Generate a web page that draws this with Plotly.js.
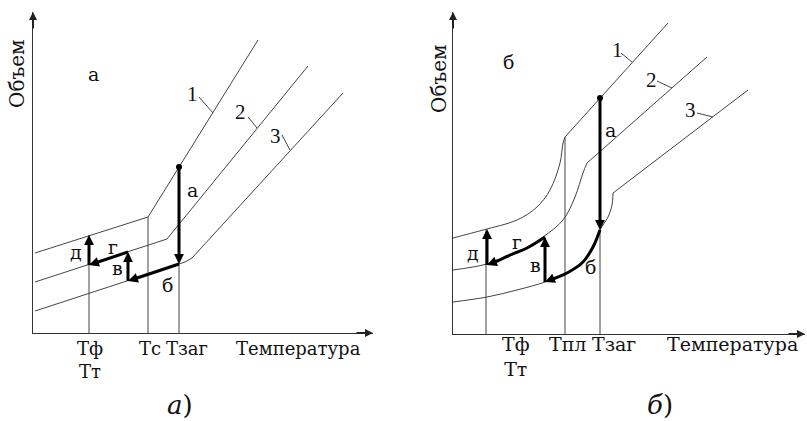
<!DOCTYPE html>
<html><head><meta charset="utf-8">
<script src="https://cdn.plot.ly/plotly-3.0.1.min.js"></script>
<style>html,body{margin:0;padding:0;background:#fff}#chart{width:807px;height:421px}</style>
</head><body><div id="chart"></div>
<script>
// ===== Panel а) — amorphous polymer (Temperature, Volume; arbitrary units) =====
const aRangeT = 340, aRangeV = 321;
const aCurve1T = [2, 115, 225];
const aCurve1V = [80, 116, 293];
const aCurve2T = [2, 134, 275];
const aCurve2V = [51, 94, 267];
const aCurve3T = [2, 152, 159, 310];
const aCurve3V = [22, 71, 75, 240];
const aVertT = [56, 115, 146];          // Тф(Тт), Тс, Тзаг
const aVertTop = [98, 116, 166];
const aPathT = [146, 146, 95, 95, 56, 56]; // steps а, б, в, г, д
const aPathV = [166, 69, 52, 81, 68, 98];
const aLeadT = [[166, 180], [215, 224], [249, 257]];
const aLeadV = [[236, 220], [216, 205], [198, 183]];
const aNumText = ['1', '2', '3'];
const aNumT = [159, 207, 242];
const aNumV = [239, 221, 197];
const aLabelText = ['а', 'а', 'б', 'в', 'г', 'д'];
const aLabelT = [60, 159, 135, 84, 80, 43];
const aLabelV = [259, 143, 48, 65, 86, 81];
const aTickText = ['Тф<br>Тт', 'Тс', 'Тзаг', 'Температура'];
const aTickT = [57, 117, 154, 265];
const aTickV = [-27, -15, -15, -15];

// ===== Panel б) — crystallising polymer =====
const bRangeT = 352, bRangeV = 322;
const bCurve1T = [0, 30, 64, 84, 97, 107, 110, 112, 215];
const bCurve1V = [96, 104, 114, 127, 144, 171, 191, 197, 311];
const bCurve2T = [0, 34, 64, 90, 110, 122, 130, 134, 254];
const bCurve2V = [64, 70, 81, 97, 114, 137, 161, 171, 277];
const bCurve3T = [0, 34, 64, 92, 114, 130, 140, 147, 155, 159, 160, 295];
const bCurve3V = [32, 37, 44, 52, 61, 72, 87, 104, 117, 129, 141, 244];
const bVertT = [33, 112, 147];          // Тф(Тт), Тпл, Тзаг
const bVertTop = [105, 197, 236];
const bStepA_T = [147, 147], bStepA_V = [236, 104];
const bStepB_T = [147, 140, 130, 114, 92], bStepB_V = [104, 87, 72, 61, 52];
const bStepV_T = [92, 92], bStepV_V = [52, 97];
const bStepG_T = [92, 74, 57, 44, 34], bStepG_V = [97, 86, 79, 73, 69];
const bStepD_T = [34, 34], bStepD_V = [69, 105];
const bLeadT = [[168, 179], [204, 219], [244, 260]];
const bLeadV = [[281, 272], [253, 246], [221, 217]];
const bNumText = ['1', '2', '3'];
const bNumT = [164, 198, 237];
const bNumV = [284, 254, 224];
const bLabelText = ['б', 'а', 'б', 'в', 'г', 'д'];
const bLabelT = [55, 157, 137, 82, 64, 20];
const bLabelV = [272, 204, 67, 69, 92, 81];
const bTickText = ['Тф<br>Тт', 'Тпл', 'Тзаг', 'Температура'];
const bTickT = [63, 114, 161, 279];
const bTickV = [-22, -10, -10, -10];

// ===== geometry of the two panels (paper domains) =====
const DOM = {
  x:  [33 / 807, 373 / 807], y:  [88 / 421, 409 / 421],
  x2: [453 / 807, 805 / 807], y2: [87 / 421, 409 / 421]
};
const RNG = {x: aRangeT, y: aRangeV, x2: bRangeT, y2: bRangeV};
const px = (a, v) => DOM[a][0] + v / RNG[a] * (DOM[a][1] - DOM[a][0]);

// ===== builders =====
const THIN = '#444', INK = '#000';
const FONT_NUM = 'Liberation Serif';
const FONT_CYR = 'DejaVu Serif';
const traces = [];
const ann = [];
function thin(xa, ya, T, V, shape) {
  traces.push({type: 'scatter', mode: 'lines', x: T, y: V, xaxis: xa, yaxis: ya,
    line: {color: THIN, width: 1, shape: shape || 'linear'}, hoverinfo: 'skip', cliponaxis: false});
}
function head(xa, ya, t0, v0, t1, v1) {
  const dt = t1 - t0, dv = v1 - v0, L = Math.hypot(dt, dv) || 1, k = 9 / L;
  ann.push({xref: xa, yref: ya, axref: xa, ayref: ya, x: t1, y: v1, ax: t1 - dt * k, ay: v1 - dv * k,
    text: '', showarrow: true, arrowhead: 2, arrowsize: 0.9, arrowwidth: 2.2, arrowcolor: INK, standoff: 0});
}
function shorten(T, V) {
  const n = T.length, dt = T[n - 1] - T[n - 2], dv = V[n - 1] - V[n - 2], L = Math.hypot(dt, dv) || 1, k = 4 / L;
  const t = T.slice(), v = V.slice();
  t[n - 1] = T[n - 1] - dt * k; v[n - 1] = V[n - 1] - dv * k;
  return [t, v];
}
function stepArrow(xa, ya, T, V, shape) {
  const [t, v] = shorten(T, V);
  traces.push({type: 'scatter', mode: 'lines', x: t, y: v, xaxis: xa, yaxis: ya,
    line: {color: INK, width: 3, shape: shape || 'linear'}, hoverinfo: 'skip', cliponaxis: false});
  const n = T.length;
  head(xa, ya, T[n - 2], V[n - 2], T[n - 1], V[n - 1]);
}
function curveWithBreak(xa, ya, T, V) {
  const n = T.length;
  thin(xa, ya, T.slice(0, n - 1), V.slice(0, n - 1), 'spline');
  thin(xa, ya, T.slice(n - 2), V.slice(n - 2));
}
function axisArrows(xa, ya) {
  const xe = px(xa, RNG[xa]), y0 = px(ya, 0), x0 = px(xa, 0), ye = px(ya, RNG[ya]);
  ann.push({xref: 'paper', yref: 'paper', x: xe, y: y0, ax: -18, ay: 0, text: '', showarrow: true,
    arrowhead: 2, arrowsize: 0.8, arrowwidth: 2, arrowcolor: '#222', standoff: 0});
  ann.push({xref: 'paper', yref: 'paper', x: x0, y: ye, ax: 0, ay: 18, text: '', showarrow: true,
    arrowhead: 2, arrowsize: 0.8, arrowwidth: 2, arrowcolor: '#222', standoff: 0});
}
function txt(xa, ya, s, t, v, size, fam, extra) {
  ann.push(Object.assign({xref: 'paper', yref: 'paper', x: px(xa, t), y: px(ya, v), text: s, showarrow: false,
    xanchor: 'center', yanchor: 'middle', font: {family: fam, size: size, color: '#111'}}, extra || {}));
}

// Panel а
thin('x', 'y', aCurve1T, aCurve1V);
thin('x', 'y', aCurve2T, aCurve2V);
thin('x', 'y', aCurve3T, aCurve3V);
aVertT.forEach((t, i) => thin('x', 'y', [t, t], [0, aVertTop[i]]));
aLeadT.forEach((t, i) => thin('x', 'y', t, aLeadV[i]));
for (let i = 1; i < aPathT.length; i++) {
  stepArrow('x', 'y', [aPathT[i - 1], aPathT[i]], [aPathV[i - 1], aPathV[i]]);
}
traces.push({type: 'scatter', mode: 'markers', x: [aPathT[0]], y: [aPathV[0]], xaxis: 'x', yaxis: 'y',
  marker: {size: 6, color: INK}, hoverinfo: 'skip'});
axisArrows('x', 'y');

// Panel б
curveWithBreak('x2', 'y2', bCurve1T, bCurve1V);
curveWithBreak('x2', 'y2', bCurve2T, bCurve2V);
curveWithBreak('x2', 'y2', bCurve3T, bCurve3V);
bVertT.forEach((t, i) => thin('x2', 'y2', [t, t], [0, bVertTop[i]]));
bLeadT.forEach((t, i) => thin('x2', 'y2', t, bLeadV[i]));
stepArrow('x2', 'y2', bStepA_T, bStepA_V);
stepArrow('x2', 'y2', bStepB_T, bStepB_V, 'spline');
stepArrow('x2', 'y2', bStepV_T, bStepV_V);
stepArrow('x2', 'y2', bStepG_T, bStepG_V, 'spline');
stepArrow('x2', 'y2', bStepD_T, bStepD_V);
traces.push({type: 'scatter', mode: 'markers', x: [bStepA_T[0]], y: [bStepA_V[0]], xaxis: 'x2', yaxis: 'y2',
  marker: {size: 6, color: INK}, hoverinfo: 'skip'});
axisArrows('x2', 'y2');

// texts
aNumText.forEach((s, i) => txt('x', 'y', s, aNumT[i], aNumV[i], 21, FONT_NUM));
aLabelText.forEach((s, i) => txt('x', 'y', s, aLabelT[i], aLabelV[i], 19, FONT_CYR));
aTickText.forEach((s, i) => txt('x', 'y', s, aTickT[i], aTickV[i], 18, FONT_CYR));
txt('x', 'y', 'Объем', -16, 259, 20, FONT_CYR, {textangle: -90});
txt('x', 'y', '<i>а</i>)', 147, -72, 26, FONT_CYR);
bNumText.forEach((s, i) => txt('x2', 'y2', s, bNumT[i], bNumV[i], 21, FONT_NUM));
bLabelText.forEach((s, i) => txt('x2', 'y2', s, bLabelT[i], bLabelV[i], 19, FONT_CYR));
bTickText.forEach((s, i) => txt('x2', 'y2', s, bTickT[i], bTickV[i], 19, FONT_CYR));
txt('x2', 'y2', 'Объем', -14, 255, 20, FONT_CYR, {textangle: -90});
txt('x2', 'y2', '<i>б</i>)', 207, -71, 26, FONT_CYR);

const ax = {showgrid: false, zeroline: false, showticklabels: false, ticks: '', fixedrange: true,
  showline: true, linecolor: '#333', linewidth: 1};
const layout = {
  width: 807, height: 421, margin: {l: 0, r: 0, t: 0, b: 0},
  paper_bgcolor: '#fff', plot_bgcolor: 'rgba(0,0,0,0)', showlegend: false,
  xaxis: Object.assign({}, ax, {domain: DOM.x, range: [0, aRangeT], anchor: 'y'}),
  yaxis: Object.assign({}, ax, {domain: DOM.y, range: [0, aRangeV], anchor: 'x'}),
  xaxis2: Object.assign({}, ax, {domain: DOM.x2, range: [0, bRangeT], anchor: 'y2'}),
  yaxis2: Object.assign({}, ax, {domain: DOM.y2, range: [0, bRangeV], anchor: 'x2'}),
  annotations: ann
};
Plotly.newPlot('chart', traces, layout, {staticPlot: true, displayModeBar: false});
</script></body></html>
